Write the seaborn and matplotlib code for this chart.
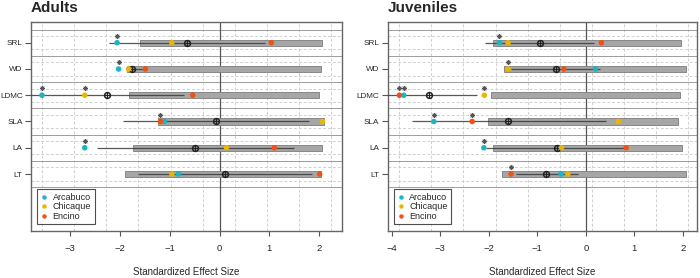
import numpy as np
import pandas as pd
import matplotlib
matplotlib.use("Agg")
import matplotlib.pyplot as plt
from matplotlib.lines import Line2D
import seaborn as sns

# traits, top to bottom
traits = ["SRL", "WD", "LDMC", "SLA", "LA", "LT"]
sites = ["Arcabuco", "Chicaque", "Encino"]
site_colors = ["#1AB6C4", "#EAB700", "#F45014"]

# Adults: null-model range (grey bar), observed mean with its interval, site values
ad_null_lo = [-1.59, -1.86, -1.83, -1.23, -1.75, -1.90]
ad_null_hi = [2.06, 2.04, 1.99, 2.09, 2.06, 2.04]
ad_mean = [-0.65, -1.77, -2.27, -0.08, -0.49, 0.10]
ad_ci_lo = [-2.22, -1.86, -3.83, -1.94, -2.47, -1.63]
ad_ci_hi = [0.92, -1.49, -0.71, 1.79, 1.49, 1.86]
ad_arcabuco = [-2.06, -2.03, -3.57, -1.11, -2.71, -0.83]
ad_chicaque = [-0.96, -1.83, -2.71, 2.07, 0.14, -0.96]
ad_encino = [1.04, -1.49, -0.54, -1.19, 1.10, 2.01]
ad_sig_arcabuco = [1, 1, 1, 0, 1, 0]
ad_sig_chicaque = [0, 0, 1, 0, 0, 0]
ad_sig_encino = [0, 0, 0, 1, 0, 0]

# Juveniles
ju_null_lo = [-1.91, -1.69, -1.95, -2.02, -1.92, -1.73]
ju_null_hi = [1.96, 2.07, 1.95, 1.89, 1.99, 2.06]
ju_mean = [-0.95, -0.62, -3.22, -1.60, -0.60, -0.81]
ju_ci_lo = [-2.07, -1.54, -4.20, -3.59, -2.05, -1.44]
ju_ci_hi = [0.16, 0.30, -2.24, 0.41, 0.85, -0.16]
ju_arcabuco = [-1.78, 0.20, -3.75, -3.13, -2.10, -0.51]
ju_chicaque = [-1.60, -1.60, -2.09, 0.67, -0.50, -0.37]
ju_encino = [0.32, -0.45, -3.84, -2.34, 0.83, -1.54]
ju_sig_arcabuco = [1, 0, 1, 1, 1, 0]
ju_sig_chicaque = [0, 1, 1, 0, 0, 0]
ju_sig_encino = [0, 0, 1, 1, 0, 1]

sns.set_style("white")
plt.rcParams["font.family"] = ["Liberation Sans", "DejaVu Sans"]

fig = plt.figure(figsize=(7, 2.78), dpi=100)
ax_ad = fig.add_axes([0.0443, 0.1701, 0.4443, 0.7508])
ax_ju = fig.add_axes([0.5539, 0.1701, 0.4418, 0.7508])

pos = np.arange(len(traits), 0, -1)  # SRL on top


def panel(ax, title, xlim, xticks, grid_start, grid_step, null_lo, null_hi,
          mean, ci_lo, ci_hi, vals, sigs):
    ax.set_xlim(*xlim)
    ax.set_ylim(-1.16, 6.79)

    # background grid
    for gx in np.arange(grid_start, xlim[1], grid_step):
        ax.axvline(gx, color="#d0d0d0", lw=0.7, ls=(0, (3, 2)), zorder=0)
    for p in pos:
        for off in (-0.25, 0.25):
            ax.axhline(p + off, color="#d0d0d0", lw=0.7, ls=(0, (3, 2)), zorder=0)
    for b in np.arange(0.5, len(traits) + 1, 1.0):
        ax.axhline(b, color="#9c9c9c", lw=0.7, zorder=1)
    ax.axvline(0, color="#555555", lw=0.9, zorder=1)

    # null model range
    ax.barh(pos, np.array(null_hi) - np.array(null_lo), left=null_lo, height=0.24,
            color="#a6a6a6", edgecolor="#7c7c7c", lw=0.6, zorder=2)
    ax.hlines(pos, ci_lo, ci_hi, color="#3a3a3a", lw=0.9, alpha=0.85, zorder=3)
    ax.plot(mean, pos, "o", mfc="none", mec="#222222", ms=4.2, mew=1.1, zorder=4)
    ax.plot(mean, pos, "+", color="#222222", ms=4.2, mew=0.8, zorder=4)

    pts = pd.DataFrame({
        "ses": np.concatenate(vals),
        "pos": np.tile(pos, len(sites)),
        "site": np.repeat(sites, len(traits)),
        "sig": np.concatenate(sigs),
    })
    sns.scatterplot(data=pts, x="ses", y="pos", hue="site", hue_order=sites,
                    palette=site_colors, s=16, edgecolor="none", linewidth=0,
                    legend=False, ax=ax, zorder=5)
    star = pts[pts["sig"] == 1]
    ax.plot(star["ses"], star["pos"] + 0.26, ls="none", marker=(8, 2, 0),
            ms=3.5, mew=0.6, color="#555555", zorder=5)

    ax.set_xticks(xticks)
    ax.set_xticklabels([f"\u2212{abs(t)}" if t < 0 else str(t) for t in xticks])
    ax.set_yticks(pos)
    ax.set_yticklabels(traits)
    ax.tick_params(axis="x", length=3.5, width=0.8, color="#555555", pad=6, labelsize=6.8)
    ax.tick_params(axis="y", length=4.5, width=0.8, color="#555555", pad=1.5, labelsize=5.9)
    ax.tick_params(bottom=True, left=True)
    for sp in ax.spines.values():
        sp.set_color("#666666")
        sp.set_linewidth(1.0)
    ax.set_xlabel("Standardized Effect Size", fontsize=7, labelpad=10)
    ax.set_ylabel("")
    ax.set_title(title, loc="left", fontsize=11, fontweight="bold", pad=7)

    handles = [Line2D([0], [0], marker="o", ls="none", color=c, ms=3.2, mew=0)
               for c in site_colors]
    leg = ax.legend(handles, sites, loc="lower left", bbox_to_anchor=(0.02, 0.03),
                    borderaxespad=0, fontsize=6.5, frameon=True, fancybox=False,
                    handlelength=0.8, handletextpad=0.5, labelspacing=0.05,
                    borderpad=0.4)
    leg.get_frame().set_edgecolor("#222222")
    leg.get_frame().set_linewidth(0.8)
    leg.set_zorder(6)


panel(ax_ad, "Adults", (-3.79, 2.46), [-3, -2, -1, 0, 1, 2], -3.565, 0.645,
      ad_null_lo, ad_null_hi, ad_mean, ad_ci_lo, ad_ci_hi,
      [ad_arcabuco, ad_chicaque, ad_encino],
      [ad_sig_arcabuco, ad_sig_chicaque, ad_sig_encino])
panel(ax_ju, "Juveniles", (-4.08, 2.29), [-4, -3, -2, -1, 0, 1, 2], -3.84, 0.66,
      ju_null_lo, ju_null_hi, ju_mean, ju_ci_lo, ju_ci_hi,
      [ju_arcabuco, ju_chicaque, ju_encino],
      [ju_sig_arcabuco, ju_sig_chicaque, ju_sig_encino])

fig.savefig("out.png", dpi=100)
